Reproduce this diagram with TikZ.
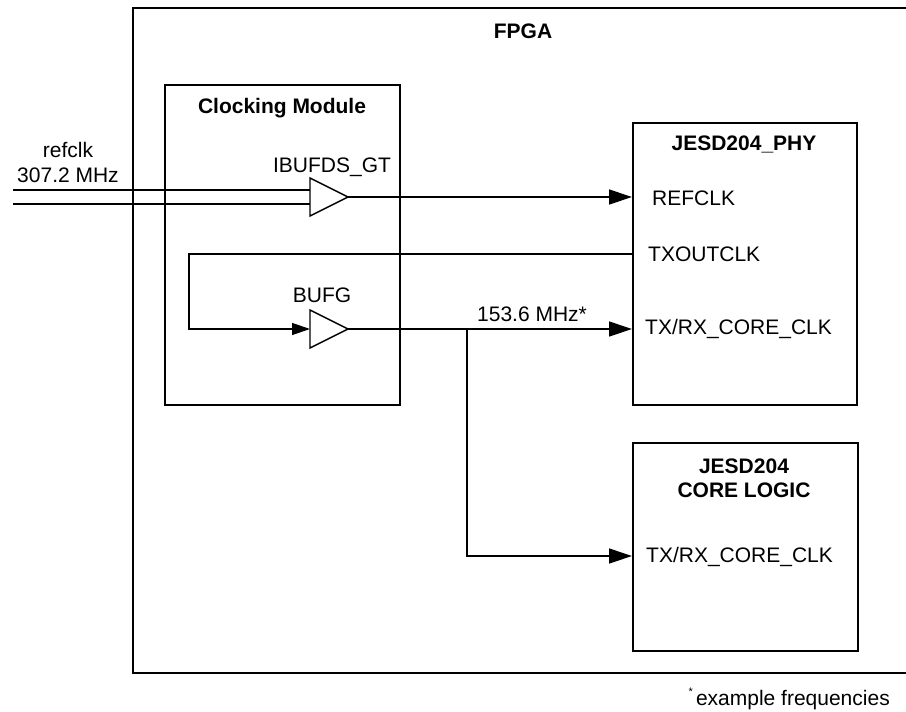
\documentclass[tikz,border=0pt]{standalone}
\usepackage{fontspec}
\setmainfont{Liberation Sans}
\usetikzlibrary{arrows.meta}
\begin{document}
\begin{tikzpicture}[x=1pt,y=-1pt,
  font=\fontsize{21}{25}\selectfont,
  boxstyle/.style={draw, line width=2.4pt, inner sep=0pt, anchor=north west},
  conn/.style={line width=1.3pt},
  arr/.style={conn, -{Triangle[length=23pt,width=15pt]}},
  smallarr/.style={conn, -{Triangle[length=18pt,width=12pt]}},
  buf/.style={draw, line width=1.4pt, fill=white, line join=miter},
  lbl/.style={inner sep=0pt, anchor=base west},
  title/.style={inner sep=0pt, anchor=base, font=\fontsize{21}{25}\selectfont\bfseries}]
\useasboundingbox (0,0) rectangle (906,712);
% FPGA outline (open to the right edge)
\coordinate (fpgaTR) at (910,8);
\coordinate (fpgaTL) at (133,8);
\coordinate (fpgaBL) at (133,673);
\coordinate (fpgaBR) at (910,673);
\draw[line width=2.4pt] (fpgaTR) -- (fpgaTL) -- (fpgaBL) -- (fpgaBR);
\node[title] (fpgat) at (523,38) {FPGA};
% boxes
\node[boxstyle, minimum width=235pt, minimum height=320pt] (clk) at (164,84) {};
\node[title] (clkt) at (282,113) {Clocking Module};
\node[boxstyle, minimum width=224pt, minimum height=282pt] (phy) at (632,122) {};
\node[title] (phyt) at (744,150.5) {JESD204\_PHY};
\node[boxstyle, minimum width=225pt, minimum height=208pt] (core) at (632,442) {};
\node[title] (coret1) at (744,473) {JESD204};
\node[title] (coret2) at (744,497) {CORE LOGIC};
% port labels
\node[lbl] (refl) at (652,205) {REFCLK};
\node[lbl] (txol) at (648,261) {TXOUTCLK};
\node[lbl] (phyc) at (645,334) {TX/RX\_CORE\_CLK};
\node[lbl] (corec) at (646,562) {TX/RX\_CORE\_CLK};
\coordinate (refp) at (632,197);
\coordinate (txop) at (632,254);
\coordinate (phycp) at (632,329);
\coordinate (corecp) at (632,556);
% input labels
\node[inner sep=0pt, anchor=base] (refclk) at (68,157.5) {refclk};
\node[inner sep=0pt, anchor=base] (reff) at (68,182) {307.2 MHz};
\node[inner sep=0pt, anchor=base] (ibl) at (332,172.5) {IBUFDS\_GT};
\node[inner sep=0pt, anchor=base] (bufgl) at (322,302.5) {BUFG};
\node[inner sep=0pt, anchor=base west] (freq) at (477,321) {153.6 MHz*};
% buffer coordinates
\coordinate (ibin) at (310,197);
\coordinate (ibout) at (348,197);
\coordinate (bgin) at (310,329);
\coordinate (bgout) at (348,329);
% differential inputs
\coordinate (inp) at (13,190);
\coordinate (inn) at (13,204);
\draw[conn] (inp) -- (inp -| ibin);
\draw[conn] (inn) -- (inn -| ibin);
% buffers
\draw[buf] (310,178) -- (ibout) -- (310,216) -- cycle;
\draw[buf] (310,310) -- (bgout) -- (310,348) -- cycle;
% connectors
\draw[arr] (ibout) -- (refp);
\coordinate (loopc) at (189,254);
\draw[smallarr] (txop) -- (loopc) |- (bgin);
\draw[arr] (bgout) -- (phycp);
\coordinate (br) at (467,329);
\draw[arr] (br) |- (corecp);
% footnote
\node[inner sep=0pt, anchor=base east] (foot) at (890,705) {\raisebox{0.9ex}{\fontsize{11}{12}\selectfont *}\kern3pt example frequencies};
\end{tikzpicture}
\end{document}
